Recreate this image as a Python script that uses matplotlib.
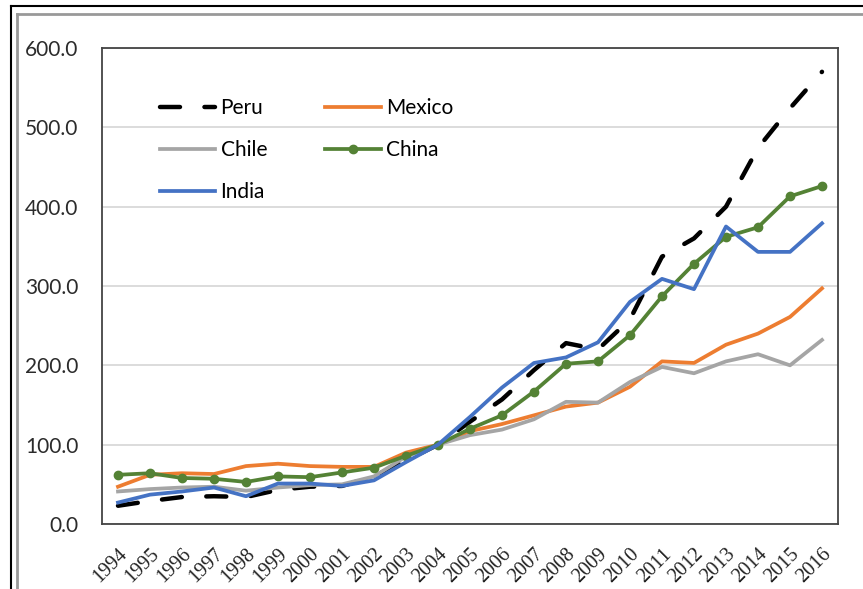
import matplotlib
matplotlib.use('Agg')
import matplotlib.pyplot as plt
from matplotlib.lines import Line2D

years = [str(y) for y in range(1994, 2017)]

peru = [23, 29, 34, 35, 34, 43, 47, 48, 60, 80, 100, 129, 157, 194, 228, 220, 258, 337, 360, 400, 474, 524, 570]
mexico = [47, 62, 64, 63, 73, 76, 73, 72, 72, 90, 100, 117, 126, 137, 148, 153, 173, 205, 203, 226, 240, 261, 297]
chile = [41, 44, 46, 47, 42, 46, 49, 50, 60, 85, 100, 112, 119, 132, 154, 153, 179, 198, 190, 205, 214, 200, 232]
china = [62, 64, 58, 57, 53, 60, 59, 65, 71, 86, 100, 120, 137, 167, 202, 205, 238, 287, 328, 362, 374, 413, 426]
india = [27, 37, 41, 46, 35, 51, 51, 48, 55, 78, 100, 135, 172, 203, 210, 229, 280, 309, 296, 375, 343, 343, 379]

plt.rcParams['font.family'] = ['Lato', 'DejaVu Sans']

fig = plt.figure(figsize=(8.63, 5.89), dpi=100)
ax = fig.add_axes([102/863, 1-524/589, 736/863, 476/589])

x = range(len(years))
lw = 2.7
ax.plot(x, peru, color='black', lw=3.2, dashes=(4.5, 5.5), dash_capstyle='round', label='Peru')
ax.plot(x, mexico, color='#ED7D31', lw=lw, label='Mexico')
ax.plot(x, chile, color='#A5A5A5', lw=lw, label='Chile')
ax.plot(x, china, color='#548235', lw=lw, marker='o', markersize=6, label='China')
ax.plot(x, india, color='#4472C4', lw=lw, label='India')

ax.set_xlim(-0.5, len(years) - 0.5)
ax.set_ylim(0, 600)
ax.set_yticks(range(0, 601, 100))
ax.set_yticklabels(['%.1f' % v for v in range(0, 601, 100)], color='#2b2b2b', fontsize=15)
ax.set_xticks(list(x))
ax.set_xticklabels(years, rotation=45, ha='right', rotation_mode='anchor',
                   fontsize=14.5, family='Liberation Serif', color='#222222')
ax.tick_params(axis='both', length=0)
ax.tick_params(axis='y', pad=17)
ax.tick_params(axis='x', pad=15)
ax.grid(axis='y', color='#d9d9d9', lw=1.3)
ax.set_axisbelow(True)
for s in ax.spines.values():
    s.set_color('#444444')
    s.set_linewidth(1.3)

# legend rows: Peru Mexico / Chile China / India
h, l = ax.get_legend_handles_labels()
order = [0, 2, 4, 1, 3]
ax.legend([h[i] for i in order], [l[i] for i in order], ncol=2, frameon=False,
          loc='upper left', bbox_to_anchor=(0.079, 0.894), borderpad=0, borderaxespad=0,
          fontsize=15, handlelength=2.65, handletextpad=0.25, columnspacing=2.8,
          labelspacing=1.05)

# outer frame lines
W, H = 863, 589
fig.add_artist(Line2D([11/W, 11/W], [0, 1-6/H], color='black', lw=1.5))
fig.add_artist(Line2D([11/W, 1], [1-6/H, 1-6/H], color='black', lw=1.5))
fig.add_artist(Line2D([17/W, 17/W], [0, 1-14/H], color='#999999', lw=2))
fig.add_artist(Line2D([17/W, 1], [1-14/H, 1-14/H], color='#999999', lw=2))

fig.savefig('out.png', dpi=100)
